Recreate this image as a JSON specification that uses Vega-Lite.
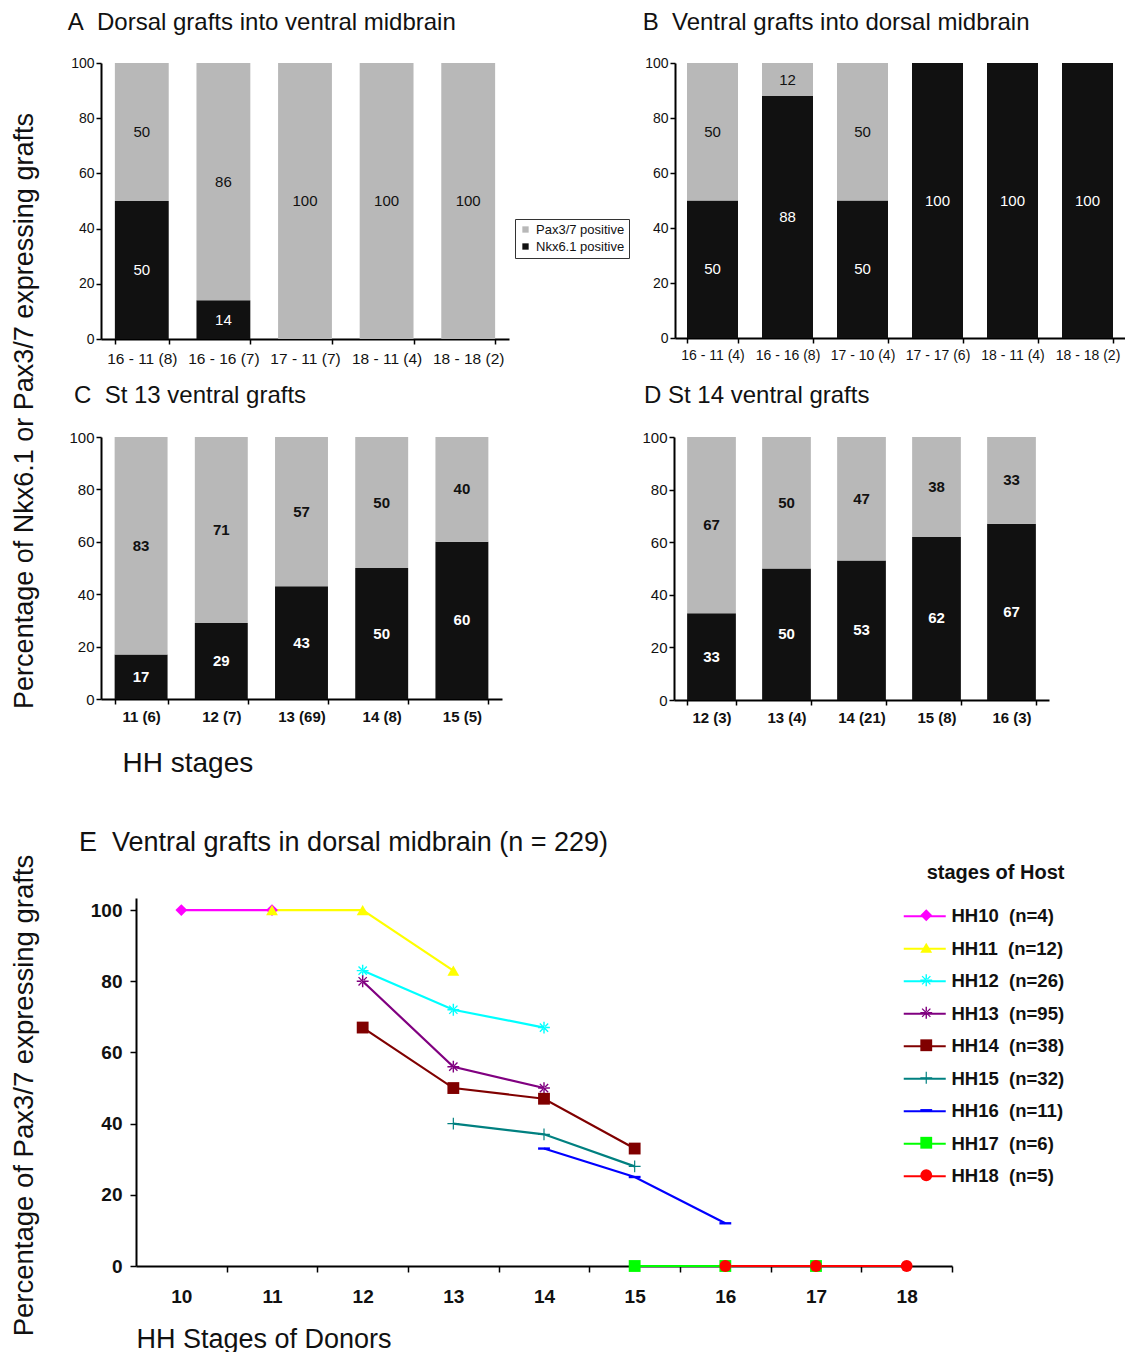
{
  "$schema": "https://vega.github.io/schema/vega-lite/v6.json",
  "background": "white",
  "padding": {"left": 10, "top": 11, "right": 0, "bottom": 0},
  "config": {
    "font": "Liberation Sans",
    "view": {"stroke": null},
    "axis": {"grid": false, "domainColor": "#000000", "domainWidth": 2, "tickColor": "#000000", "tickWidth": 1.5, "tickSize": 5, "labelColor": "#111111", "labelFontSize": 14, "titleFontWeight": "normal", "titleColor": "#111111"},
    "title": {"fontWeight": "normal", "color": "#111111"}
  },
  "datasets": {
    "A": [
      {"stage": "16 - 11 (8)", "marker": "Nkx6.1 positive", "pct": 50},
      {"stage": "16 - 11 (8)", "marker": "Pax3/7 positive", "pct": 50},
      {"stage": "16 - 16 (7)", "marker": "Nkx6.1 positive", "pct": 14},
      {"stage": "16 - 16 (7)", "marker": "Pax3/7 positive", "pct": 86},
      {"stage": "17 - 11 (7)", "marker": "Nkx6.1 positive", "pct": 0},
      {"stage": "17 - 11 (7)", "marker": "Pax3/7 positive", "pct": 100},
      {"stage": "18 - 11 (4)", "marker": "Nkx6.1 positive", "pct": 0},
      {"stage": "18 - 11 (4)", "marker": "Pax3/7 positive", "pct": 100},
      {"stage": "18 - 18 (2)", "marker": "Nkx6.1 positive", "pct": 0},
      {"stage": "18 - 18 (2)", "marker": "Pax3/7 positive", "pct": 100}
    ],
    "B": [
      {"stage": "16 - 11 (4)", "marker": "Nkx6.1 positive", "pct": 50},
      {"stage": "16 - 11 (4)", "marker": "Pax3/7 positive", "pct": 50},
      {"stage": "16 - 16 (8)", "marker": "Nkx6.1 positive", "pct": 88},
      {"stage": "16 - 16 (8)", "marker": "Pax3/7 positive", "pct": 12},
      {"stage": "17 - 10 (4)", "marker": "Nkx6.1 positive", "pct": 50},
      {"stage": "17 - 10 (4)", "marker": "Pax3/7 positive", "pct": 50},
      {"stage": "17 - 17 (6)", "marker": "Nkx6.1 positive", "pct": 100},
      {"stage": "17 - 17 (6)", "marker": "Pax3/7 positive", "pct": 0},
      {"stage": "18 - 11 (4)", "marker": "Nkx6.1 positive", "pct": 100},
      {"stage": "18 - 11 (4)", "marker": "Pax3/7 positive", "pct": 0},
      {"stage": "18 - 18 (2)", "marker": "Nkx6.1 positive", "pct": 100},
      {"stage": "18 - 18 (2)", "marker": "Pax3/7 positive", "pct": 0}
    ],
    "C": [
      {"stage": "11 (6)", "marker": "Nkx6.1 positive", "pct": 17},
      {"stage": "11 (6)", "marker": "Pax3/7 positive", "pct": 83},
      {"stage": "12 (7)", "marker": "Nkx6.1 positive", "pct": 29},
      {"stage": "12 (7)", "marker": "Pax3/7 positive", "pct": 71},
      {"stage": "13 (69)", "marker": "Nkx6.1 positive", "pct": 43},
      {"stage": "13 (69)", "marker": "Pax3/7 positive", "pct": 57},
      {"stage": "14 (8)", "marker": "Nkx6.1 positive", "pct": 50},
      {"stage": "14 (8)", "marker": "Pax3/7 positive", "pct": 50},
      {"stage": "15 (5)", "marker": "Nkx6.1 positive", "pct": 60},
      {"stage": "15 (5)", "marker": "Pax3/7 positive", "pct": 40}
    ],
    "D": [
      {"stage": "12 (3)", "marker": "Nkx6.1 positive", "pct": 33},
      {"stage": "12 (3)", "marker": "Pax3/7 positive", "pct": 67},
      {"stage": "13 (4)", "marker": "Nkx6.1 positive", "pct": 50},
      {"stage": "13 (4)", "marker": "Pax3/7 positive", "pct": 50},
      {"stage": "14 (21)", "marker": "Nkx6.1 positive", "pct": 53},
      {"stage": "14 (21)", "marker": "Pax3/7 positive", "pct": 47},
      {"stage": "15 (8)", "marker": "Nkx6.1 positive", "pct": 62},
      {"stage": "15 (8)", "marker": "Pax3/7 positive", "pct": 38},
      {"stage": "16 (3)", "marker": "Nkx6.1 positive", "pct": 67},
      {"stage": "16 (3)", "marker": "Pax3/7 positive", "pct": 33}
    ],
    "E": [
      {"host": "HH10\u00a0\u00a0(n=4)", "donor": 10, "pct": 100},
      {"host": "HH10\u00a0\u00a0(n=4)", "donor": 11, "pct": 100},
      {"host": "HH11\u00a0\u00a0(n=12)", "donor": 11, "pct": 100},
      {"host": "HH11\u00a0\u00a0(n=12)", "donor": 12, "pct": 100},
      {"host": "HH11\u00a0\u00a0(n=12)", "donor": 13, "pct": 83},
      {"host": "HH12\u00a0\u00a0(n=26)", "donor": 12, "pct": 83},
      {"host": "HH12\u00a0\u00a0(n=26)", "donor": 13, "pct": 72},
      {"host": "HH12\u00a0\u00a0(n=26)", "donor": 14, "pct": 67},
      {"host": "HH13\u00a0\u00a0(n=95)", "donor": 12, "pct": 80},
      {"host": "HH13\u00a0\u00a0(n=95)", "donor": 13, "pct": 56},
      {"host": "HH13\u00a0\u00a0(n=95)", "donor": 14, "pct": 50},
      {"host": "HH14\u00a0\u00a0(n=38)", "donor": 12, "pct": 67},
      {"host": "HH14\u00a0\u00a0(n=38)", "donor": 13, "pct": 50},
      {"host": "HH14\u00a0\u00a0(n=38)", "donor": 14, "pct": 47},
      {"host": "HH14\u00a0\u00a0(n=38)", "donor": 15, "pct": 33},
      {"host": "HH15\u00a0\u00a0(n=32)", "donor": 13, "pct": 40},
      {"host": "HH15\u00a0\u00a0(n=32)", "donor": 14, "pct": 37},
      {"host": "HH15\u00a0\u00a0(n=32)", "donor": 15, "pct": 28},
      {"host": "HH16\u00a0\u00a0(n=11)", "donor": 14, "pct": 33},
      {"host": "HH16\u00a0\u00a0(n=11)", "donor": 15, "pct": 25},
      {"host": "HH16\u00a0\u00a0(n=11)", "donor": 16, "pct": 12},
      {"host": "HH17\u00a0\u00a0(n=6)", "donor": 15, "pct": 0},
      {"host": "HH17\u00a0\u00a0(n=6)", "donor": 16, "pct": 0},
      {"host": "HH17\u00a0\u00a0(n=6)", "donor": 17, "pct": 0},
      {"host": "HH18\u00a0\u00a0(n=5)", "donor": 16, "pct": 0},
      {"host": "HH18\u00a0\u00a0(n=5)", "donor": 17, "pct": 0},
      {"host": "HH18\u00a0\u00a0(n=5)", "donor": 18, "pct": 0}
    ]
  },
  "spacing": 52,
  "resolve": {"scale": {"color": "independent", "stroke": "independent", "shape": "independent"}, "legend": {"color": "independent", "stroke": "independent", "shape": "independent"}},
  "vconcat": [
    {
      "title": {"text": "Percentage of Nkx6.1 or Pax3/7 expressing grafts", "orient": "left", "anchor": "middle", "fontSize": 27, "offset": 29, "dx": -17},
      "spacing": 17,
      "vconcat": [
        {
          "spacing": 12,
          "resolve": {"scale": {"color": "independent"}, "legend": {"color": "independent"}},
          "hconcat": [
            {
              "title": {"text": "A\u00a0 Dorsal grafts into ventral midbrain", "anchor": "start", "fontSize": 24, "offset": 21, "dx": -3},
              "width": 408, "height": 276,
              "data": {"name": "A"},
              "encoding": {
                "x": {"field": "stage", "type": "ordinal", "sort": null, "title": null, "scale": {"paddingInner": 0.34, "paddingOuter": 0.17}, "axis": {"labelAngle": 0, "tickBand": "extent", "labelFontSize": 15.5, "labelPadding": 7}}
              },
              "layer": [
                {
                  "mark": {"type": "bar"},
                  "encoding": {
                    "y": {"field": "pct", "type": "quantitative", "stack": "zero", "title": null, "scale": {"domain": [0, 100], "nice": false}, "axis": {"values": [0, 20, 40, 60, 80, 100]}},
                    "color": {"field": "marker", "type": "nominal", "scale": {"domain": ["Pax3/7 positive", "Nkx6.1 positive"], "range": ["#b8b8b8", "#111111"]}, "legend": {"title": null, "orient": "none", "legendX": 414, "legendY": 156, "strokeColor": "#333333", "padding": 4, "symbolType": "square", "symbolSize": 40, "symbolStrokeWidth": 0, "labelFontSize": 13, "labelColor": "#111111", "rowPadding": 3, "labelOffset": 4}},
                    "detail": {"field": "marker"},
                    "order": {"field": "marker", "type": "ordinal", "sort": "ascending"}
                  }
                },
                {
                  "mark": {"type": "text", "fontSize": 15},
                  "transform": [{"filter": "datum.pct > 0"}],
                  "encoding": {
                    "y": {"field": "pct", "type": "quantitative", "stack": "zero", "bandPosition": 0.5, "title": null, "scale": {"domain": [0, 100], "nice": false}, "axis": {"values": [0, 20, 40, 60, 80, 100]}},
                    "detail": {"field": "marker"},
                    "order": {"field": "marker", "type": "ordinal", "sort": "ascending"},
                    "text": {"field": "pct", "type": "quantitative"},
                    "color": {"condition": {"test": "datum.marker == 'Nkx6.1 positive'", "value": "#ffffff"}, "value": "#111111"}
                  }
                }
              ]
            },
            {
              "title": {"text": "B\u00a0 Ventral grafts into dorsal midbrain", "anchor": "start", "fontSize": 24, "offset": 21, "dx": -2},
              "width": 450, "height": 275,
              "data": {"name": "B"},
              "encoding": {
                "x": {"field": "stage", "type": "ordinal", "sort": null, "title": null, "scale": {"paddingInner": 0.32, "paddingOuter": 0.16}, "axis": {"labelAngle": 0, "tickBand": "extent", "labelFontSize": 14, "labelPadding": 5}}
              },
              "layer": [
                {
                  "mark": {"type": "bar"},
                  "encoding": {
                    "y": {"field": "pct", "type": "quantitative", "stack": "zero", "title": null, "scale": {"domain": [0, 100], "nice": false}, "axis": {"values": [0, 20, 40, 60, 80, 100]}},
                    "color": {"condition": {"test": "datum.marker == 'Nkx6.1 positive'", "value": "#111111"}, "value": "#b8b8b8"},
                    "detail": {"field": "marker"},
                    "order": {"field": "marker", "type": "ordinal", "sort": "ascending"}
                  }
                },
                {
                  "mark": {"type": "text", "fontSize": 15},
                  "transform": [{"filter": "datum.pct > 0"}],
                  "encoding": {
                    "y": {"field": "pct", "type": "quantitative", "stack": "zero", "bandPosition": 0.5, "title": null, "scale": {"domain": [0, 100], "nice": false}, "axis": {"values": [0, 20, 40, 60, 80, 100]}},
                    "detail": {"field": "marker"},
                    "order": {"field": "marker", "type": "ordinal", "sort": "ascending"},
                    "text": {"field": "pct", "type": "quantitative"},
                    "color": {"condition": {"test": "datum.marker == 'Nkx6.1 positive'", "value": "#ffffff"}, "value": "#111111"}
                  }
                }
              ]
            }
          ]
        },
        {
          "spacing": 139,
          "hconcat": [
            {
              "title": {"text": "C\u00a0 St 13 ventral grafts", "anchor": "start", "fontSize": 24, "offset": 22, "dx": 5},
              "width": 401, "height": 262,
              "data": {"name": "C"},
              "encoding": {
                "x": {"field": "stage", "type": "ordinal", "sort": null, "title": "HH stages", "scale": {"paddingInner": 0.34, "paddingOuter": 0.17}, "axis": {"labelAngle": 0, "tickBand": "extent", "labelFontSize": 15, "labelFontWeight": "bold", "labelPadding": 5, "titleFontSize": 28, "titleAnchor": "start", "titleAlign": "left", "titleX": 21, "titlePadding": 25}}
              },
              "layer": [
                {
                  "mark": {"type": "bar"},
                  "encoding": {
                    "y": {"field": "pct", "type": "quantitative", "stack": "zero", "title": null, "scale": {"domain": [0, 100], "nice": false}, "axis": {"values": [0, 20, 40, 60, 80, 100], "labelFontSize": 15}},
                    "color": {"condition": {"test": "datum.marker == 'Nkx6.1 positive'", "value": "#111111"}, "value": "#b8b8b8"},
                    "detail": {"field": "marker"},
                    "order": {"field": "marker", "type": "ordinal", "sort": "ascending"}
                  }
                },
                {
                  "mark": {"type": "text", "fontSize": 15, "fontWeight": "bold"},
                  "encoding": {
                    "y": {"field": "pct", "type": "quantitative", "stack": "zero", "bandPosition": 0.5, "title": null, "scale": {"domain": [0, 100], "nice": false}, "axis": {"values": [0, 20, 40, 60, 80, 100], "labelFontSize": 15}},
                    "detail": {"field": "marker"},
                    "order": {"field": "marker", "type": "ordinal", "sort": "ascending"},
                    "text": {"field": "pct", "type": "quantitative"},
                    "color": {"condition": {"test": "datum.marker == 'Nkx6.1 positive'", "value": "#ffffff"}, "value": "#111111"}
                  }
                }
              ]
            },
            {
              "title": {"text": "D St 14 ventral grafts", "anchor": "start", "fontSize": 24, "offset": 22, "dx": 2},
              "width": 375, "height": 263,
              "data": {"name": "D"},
              "encoding": {
                "x": {"field": "stage", "type": "ordinal", "sort": null, "title": null, "scale": {"paddingInner": 0.35, "paddingOuter": 0.175}, "axis": {"labelAngle": 0, "tickBand": "extent", "labelFontSize": 15, "labelFontWeight": "bold", "labelPadding": 5}}
              },
              "layer": [
                {
                  "mark": {"type": "bar"},
                  "encoding": {
                    "y": {"field": "pct", "type": "quantitative", "stack": "zero", "title": null, "scale": {"domain": [0, 100], "nice": false}, "axis": {"values": [0, 20, 40, 60, 80, 100], "labelFontSize": 15}},
                    "color": {"condition": {"test": "datum.marker == 'Nkx6.1 positive'", "value": "#111111"}, "value": "#b8b8b8"},
                    "detail": {"field": "marker"},
                    "order": {"field": "marker", "type": "ordinal", "sort": "ascending"}
                  }
                },
                {
                  "mark": {"type": "text", "fontSize": 15, "fontWeight": "bold"},
                  "encoding": {
                    "y": {"field": "pct", "type": "quantitative", "stack": "zero", "bandPosition": 0.5, "title": null, "scale": {"domain": [0, 100], "nice": false}, "axis": {"values": [0, 20, 40, 60, 80, 100], "labelFontSize": 15}},
                    "detail": {"field": "marker"},
                    "order": {"field": "marker", "type": "ordinal", "sort": "ascending"},
                    "text": {"field": "pct", "type": "quantitative"},
                    "color": {"condition": {"test": "datum.marker == 'Nkx6.1 positive'", "value": "#ffffff"}, "value": "#111111"}
                  }
                }
              ]
            }
          ]
        }
      ]
    },
    {
      "title": {"text": "E\u00a0 Ventral grafts in dorsal midbrain (n = 229)", "anchor": "start", "frame": "group", "fontSize": 27, "offset": -7, "dx": -22},
      "width": 855, "height": 368,
      "data": {"name": "E"},
      "encoding": {
        "x": {"field": "donor", "type": "quantitative", "title": "HH Stages of Donors", "scale": {"domain": [9.5, 18.5], "rangeMin": 35, "rangeMax": 851, "nice": false, "zero": false}, "axis": {"values": [10, 11, 12, 13, 14, 15, 16, 17, 18], "tickOffset": 45.3, "labelOffset": -45.3, "tickSize": 6, "labelFontSize": 19, "labelFontWeight": "bold", "labelPadding": 15, "titleFontSize": 27, "titleAnchor": "start", "titlePadding": 20}},
        "y": {"field": "pct", "type": "quantitative", "title": "Percentage of  Pax3/7 expressing grafts", "scale": {"domain": [0, 103.4], "nice": false}, "axis": {"values": [0, 20, 40, 60, 80, 100], "offset": -35, "tickSize": 6, "labelFontSize": 19, "labelFontWeight": "bold", "labelPadding": 8, "titleFontSize": 27.5, "titlePadding": 52, "titleY": 197}}
      },
      "layer": [
        {
          "mark": {"type": "line", "strokeWidth": 2.2},
          "encoding": {
            "stroke": {"field": "host", "type": "nominal",
              "scale": {"domain": ["HH10\u00a0\u00a0(n=4)", "HH11\u00a0\u00a0(n=12)", "HH12\u00a0\u00a0(n=26)", "HH13\u00a0\u00a0(n=95)", "HH14\u00a0\u00a0(n=38)", "HH15\u00a0\u00a0(n=32)", "HH16\u00a0\u00a0(n=11)", "HH17\u00a0\u00a0(n=6)", "HH18\u00a0\u00a0(n=5)"],
                        "range": ["#ff00ff", "#ffff00", "#00ffff", "#800080", "#800000", "#008080", "#0000ff", "#00ff00", "#ff0000"]},
              "legend": {"title": "stages of Host", "orient": "none", "legendX": 814.5, "legendY": -35, "padding": 0, "symbolType": "M-2.8,0L2.8,0", "symbolSize": 225, "symbolStrokeWidth": 2.2, "labelFontSize": 18.5, "labelFontWeight": "bold", "labelColor": "#111111", "labelOffset": 17.5, "labelLimit": 300, "titleFontSize": 20, "titleFontWeight": "bold", "titleColor": "#111111", "titlePadding": 24, "titleAnchor": "end", "rowPadding": 13.5}
            }
          }
        },
        {
          "mark": {"type": "point", "filled": true, "size": 140, "opacity": 1},
          "encoding": {
            "color": {"field": "host", "type": "nominal",
              "scale": {"range": ["#ff00ff", "#ffff00", "#00ffff", "#800080", "#800000", "#008080", "#0000ff", "#00ff00", "#ff0000"]},
              "legend": {"title": null, "orient": "none", "legendX": 816, "legendY": 8, "padding": 0, "symbolSize": 140, "symbolStrokeWidth": 0, "symbolOpacity": 1, "labelExpr": "''", "labelFontSize": 18.5, "labelOffset": 0, "rowPadding": 13.5}
            },
            "shape": {"field": "host", "type": "nominal",
              "scale": {"range": ["diamond", "triangle-up", "M-1,-0.12L1,-0.12L1,0.12L-1,0.12Z M-0.12,-1L0.12,-1L0.12,1L-0.12,1Z M-0.78,-0.62L-0.62,-0.78L0.78,0.62L0.62,0.78Z M-0.78,0.62L-0.62,0.78L0.78,-0.62L0.62,-0.78Z", "M-1,-0.12L1,-0.12L1,0.12L-1,0.12Z M-0.12,-1L0.12,-1L0.12,1L-0.12,1Z M-0.78,-0.62L-0.62,-0.78L0.78,0.62L0.62,0.78Z M-0.78,0.62L-0.62,0.78L0.78,-0.62L0.62,-0.78Z", "square", "M-1,-0.1L1,-0.1L1,0.1L-1,0.1Z M-0.1,-1L0.1,-1L0.1,1L-0.1,1Z", "M-1,-0.2L1,-0.2L1,0.2L-1,0.2Z", "square", "circle"]},
              "legend": {"title": null, "orient": "none", "legendX": 816, "legendY": 8, "padding": 0, "symbolSize": 140, "symbolStrokeWidth": 0, "symbolOpacity": 1, "labelExpr": "''", "labelFontSize": 18.5, "labelOffset": 0, "rowPadding": 13.5}
            }
          }
        }
      ]
    }
  ]
}
